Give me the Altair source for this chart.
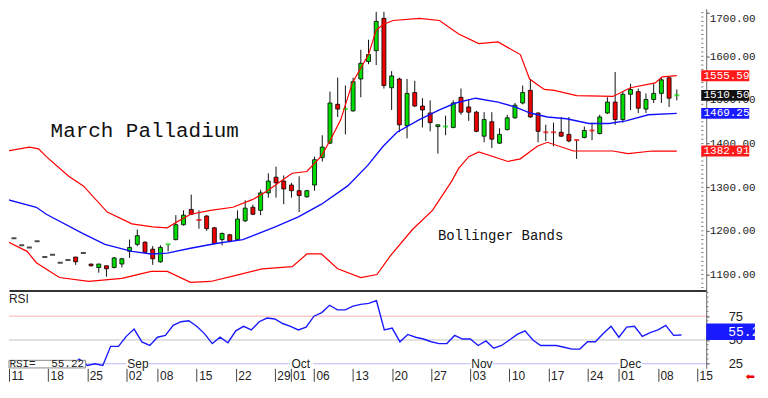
import altair as alt
import pandas as pd

# ---------------- data ----------------
days = list(range(87))
opens = [1183, 1167, 1162, 1176, 1140, 1145, 1127, 1133, 1140, 1149,
         1124, 1116, 1120, 1116, 1124, 1153, 1169, 1174, 1158, 1129,
         1169, 1180, 1214, 1249, 1225, 1234, 1207, 1180, 1191, 1180,
         1223, 1254, 1247, 1287, 1323, 1314, 1305, 1292, 1278, 1305,
         1368, 1401, 1490, 1479, 1475, 1548, 1588, 1613, 1687, 1528,
         1548, 1441, 1517, 1486, 1470, 1439, 1439, 1437, 1506, 1484,
         1472, 1417, 1450, 1401, 1432, 1459, 1493, 1522, 1470, 1426,
         1426, 1426, 1421, 1408, 1414, 1430, 1423, 1470, 1495, 1455,
         1513, 1519, 1479, 1501, 1515, 1551, 1510.5]
highs = [1183, 1167, 1162, 1176, 1140, 1145, 1127, 1133, 1140, 1149,
         1124, 1124, 1120, 1140, 1138, 1180, 1203, 1176, 1165, 1167,
         1169, 1236, 1247, 1283, 1247, 1236, 1209, 1196, 1193, 1247,
         1270, 1260, 1294, 1332, 1347, 1327, 1310, 1325, 1294, 1370,
         1419, 1519, 1551, 1533, 1551, 1615, 1638, 1702, 1702, 1566,
         1551, 1548, 1544, 1504, 1499, 1443, 1464, 1499, 1526, 1501,
         1475, 1472, 1472, 1435, 1466, 1493, 1533, 1548, 1472, 1443,
         1448, 1461, 1461, 1408, 1439, 1448, 1466, 1506, 1564, 1519,
         1537, 1526, 1515, 1537, 1551, 1551, 1524]
lows = [1183, 1167, 1162, 1176, 1140, 1145, 1127, 1133, 1122, 1149,
        1118, 1104, 1095, 1114, 1116, 1138, 1165, 1149, 1122, 1127,
        1153, 1178, 1212, 1236, 1205, 1200, 1169, 1167, 1174, 1178,
        1220, 1236, 1236, 1276, 1276, 1261, 1276, 1243, 1276, 1292,
        1359, 1399, 1461, 1421, 1473, 1506, 1582, 1580, 1526, 1477,
        1426, 1412, 1484, 1437, 1428, 1377, 1419, 1435, 1466, 1452,
        1426, 1403, 1390, 1399, 1430, 1457, 1490, 1459, 1403, 1406,
        1394, 1415, 1403, 1365, 1412, 1408, 1421, 1468, 1443, 1448,
        1477, 1470, 1470, 1493, 1493, 1484, 1499]
closes = [1183, 1167, 1162, 1176, 1140, 1145, 1127, 1133, 1129, 1149,
          1120, 1124, 1113, 1138, 1136, 1162, 1189, 1151, 1136, 1162,
          1169, 1214, 1236, 1238, 1225, 1205, 1171, 1194, 1176, 1227,
          1252, 1238, 1287, 1314, 1310, 1296, 1292, 1281, 1292, 1363,
          1392, 1493, 1479, 1479, 1542, 1584, 1604, 1680, 1533, 1555,
          1443, 1515, 1486, 1477, 1448, 1443, 1439, 1493, 1472, 1472,
          1428, 1455, 1410, 1421, 1459, 1488, 1517, 1461, 1428, 1426,
          1426, 1417, 1406, 1408, 1430, 1430, 1461, 1495, 1455, 1513,
          1524, 1481, 1501, 1515, 1546, 1504, 1510.5]
kinds = list("kkkkkkkkrk" "rgrggggrrg" "gggrrrrgrg" "grggrrrrgg" "ggrgggggrg"
             "rgrrrgggrr" "rgrggggrrr" "rrrrgrggrg" "grgggrg")

upper_days = [-0.9, 2.0, 3.2, 4.2, 7.1, 9.0, 12.1, 15.3, 18.0, 19.9,
              21.1, 22.9, 25.5, 28.4, 31.0, 32.9, 34.8, 36.1, 38.0, 39.9,
              41.1, 42.4, 43.9, 46.0, 47.0, 47.9, 49.2, 52.6, 55.2, 57.7,
              60.3, 62.8, 65.7, 66.9, 68.8, 70.1, 73.0, 77.7, 80.0, 83.2,
              84.1, 86.0]
upper_vals = [1383, 1392, 1388, 1370, 1325, 1303, 1243, 1216, 1209, 1207,
              1220, 1238, 1247, 1254, 1272, 1292, 1316, 1332, 1336, 1372,
              1410, 1455, 1539, 1604, 1660, 1673, 1682, 1687, 1682, 1651,
              1629, 1633, 1604, 1548, 1524, 1522, 1510, 1508, 1528, 1539,
              1553, 1555.6]
mid_days = [-0.9, 2.9, 4.2, 8.9, 11.8, 15.3, 17.8, 19.9, 22.9, 26.2,
            29.7, 33.9, 36.9, 39.9, 43.3, 45.9, 47.9, 49.7, 52.6, 55.2,
            57.3, 59.9, 62.8, 65.0, 67.0, 69.2, 71.7, 74.6, 77.2, 79.4,
            82.3, 86.0]
mid_vals = [1272, 1254, 1238, 1194, 1169, 1153, 1147, 1149, 1160, 1171,
            1180, 1209, 1232, 1261, 1303, 1350, 1394, 1426, 1455, 1477,
            1493, 1504, 1495, 1484, 1470, 1461, 1457, 1446, 1446, 1452,
            1466, 1469.3]
lower_days = [-0.9, 1.7, 2.9, 5.9, 9.7, 14.0, 17.8, 19.9, 22.9, 25.5,
              28.8, 32.2, 36.1, 38.0, 39.9, 42.0, 45.0, 47.1, 48.8, 51.7,
              54.3, 56.8, 57.7, 59.0, 60.3, 64.1, 65.7, 67.9, 69.2, 72.6,
              77.7, 79.7, 82.8, 86.0]
lower_vals = [1176, 1153, 1127, 1093, 1084, 1091, 1107, 1107, 1082, 1084,
              1098, 1113, 1118, 1147, 1147, 1113, 1093, 1100, 1142, 1203,
              1247, 1314, 1343, 1370, 1381, 1359, 1365, 1394, 1403, 1383,
              1383, 1377, 1383, 1382.9]

rsi = [26.0, 24.0, 23.1, 27.9, 23.5, 25.0, 23.0, 24.5, 23.5, 29.8,
       23.1, 25.0, 23.1, 43.3, 43.3, 53.8, 61.5, 48.0, 44.2, 52.9,
       54.8, 65.4, 69.2, 70.2, 64.4, 56.7, 46.2, 52.9, 47.1, 59.6,
       64.4, 60.6, 69.2, 73.1, 72.1, 67.3, 64.4, 60.6, 63.5, 75.0,
       78.8, 86.5, 81.7, 81.7, 85.6, 87.5, 88.5, 91.3, 60.6, 62.5,
       48.1, 55.8, 52.9, 51.0, 48.1, 46.2, 46.2, 54.8, 51.0, 51.0,
       44.2, 49.0, 41.3, 44.2, 50.0, 55.8, 59.6, 50.0, 44.2, 44.2,
       44.2, 42.3, 40.4, 40.4, 48.1, 48.1, 56.7, 64.4, 52.9, 63.5,
       64.4, 53.8, 57.7, 60.6, 65.4, 54.8, 55.2]

tick_days = [0, 5, 10, 15, 19, 24, 29, 34, 36, 39, 44, 49, 54, 59, 64, 69, 74, 78, 83, 88]
tick_labels = ["11", "18", "25", "02", "08", "15", "22", "29", "01", "06",
               "13", "20", "27", "03", "10", "17", "24", "01", "08", "15"]
month_names = ["Sep", "Oct", "Nov", "Dec"]
month_days = [15, 36, 59, 78]
price_ticks = [1100, 1200, 1300, 1400, 1500, 1600, 1700]
rsi_ticks = [25, 50, 75]

last_names = ["upper", "close", "middle", "lower"]
last_vals = [1555.59, 1510.50, 1469.25, 1382.91]
last_texts = ["1555.59", "1510.50", "1469.25", "1382.91"]
rsi_last = 55.22

# ---------------- layout ----------------
W = 700
H_MAIN = 283
H_RSI = 78
X_END = 89.17
BOX_END = 95.4
xs = alt.Scale(domain=[0, X_END], nice=False, zero=False)
ys = alt.Scale(domain=[1063, 1709], nice=False, zero=False)
rs = alt.Scale(domain=[20.2, 101.9], nice=False, zero=False)

MONO = "Liberation Mono"
SANS = "Liberation Sans"

main_xaxis = alt.Axis(orient="bottom", labels=False, ticks=False, domain=True,
                      domainColor="#333333", domainWidth=2, grid=False, title=None)
yaxis = alt.Axis(orient="right", values=price_ticks, format=".2f", title=None, grid=False,
                 tickSize=3, tickColor="#555555", domainColor="#666666", labelPadding=0,
                 labelFont=MONO, labelFontSize=11, labelColor="#222222", labelFlush=5, zindex=0)

label_expr = "''"
for d, l in reversed(list(zip(tick_days, tick_labels))):
    label_expr = f"datum.value == {d} ? '{l}' : {label_expr}"

rsi_xaxis = alt.Axis(orient="bottom", values=tick_days, labelExpr=label_expr, domain=False,
                     grid=False, ticks=True, tickSize=13, tickColor="#444444", tickWidth=1,
                     labelAlign="left", labelBaseline="top", labelPadding=-11, labelOffset=2,
                     labelFont=SANS, labelFontSize=12, labelColor="#222222",
                     labelOverlap=False, labelFlush=False, title=None, zindex=0)
rsi_yaxis = alt.Axis(orient="right", values=rsi_ticks, title=None, grid=False, tickSize=3,
                     tickColor="#555555", domainColor="#666666", labelPadding=19,
                     labelFont=SANS, labelFontSize=13, labelColor="#222222", zindex=0)


def MX(field):
    return alt.X(field, type="quantitative", scale=xs, axis=main_xaxis)


def MXD(v):
    return alt.XDatum(v, type="quantitative", scale=xs, axis=main_xaxis)


def MY(field):
    return alt.Y(field, type="quantitative", scale=ys, axis=yaxis)


def MYD(v):
    return alt.YDatum(v, type="quantitative", scale=ys, axis=yaxis)


def RX(field):
    return alt.X(field, type="quantitative", scale=xs, axis=rsi_xaxis)


def RXD(v):
    return alt.XDatum(v, type="quantitative", scale=xs, axis=rsi_xaxis)


def RY(field):
    return alt.Y(field, type="quantitative", scale=rs, axis=rsi_yaxis)


def RYD(v):
    return alt.YDatum(v, type="quantitative", scale=rs, axis=rsi_yaxis)


candles = pd.DataFrame({"day": days, "open": opens, "high": highs, "low": lows,
                        "close": closes, "kind": kinds})
kind_color = ("datum.kind == 'g' ? '#00dd00' : datum.kind == 'r' ? '#ee0000' : '#000000'")

wicks = alt.Chart(candles).transform_filter("datum.high > datum.low").mark_rule(
    color="#111111", strokeWidth=1, clip=True
).encode(x=MX("day"), y=MY("low"), y2="high:Q")

bodies = alt.Chart(candles).transform_filter("datum.open != datum.close").transform_calculate(
    col=kind_color
).mark_bar(size=4, stroke="#000000", strokeWidth=0.8, clip=True).encode(
    x=MX("day"), y=MY("open"), y2="close:Q", fill=alt.Fill("col:N", scale=None)
)

dashes = alt.Chart(candles).transform_filter("datum.open == datum.close").transform_calculate(
    col=kind_color
).mark_tick(orient="horizontal", size=5, thickness=2, clip=True).encode(
    x=MX("day"), y=MY("close"), color=alt.Color("col:N", scale=None)
)

upper = alt.Chart(pd.DataFrame({"day": upper_days, "v": upper_vals})).mark_line(
    color="#ff0000", strokeWidth=1.2, clip=True).encode(x=MX("day"), y=MY("v"))
lower = alt.Chart(pd.DataFrame({"day": lower_days, "v": lower_vals})).mark_line(
    color="#ff0000", strokeWidth=1.2, clip=True).encode(x=MX("day"), y=MY("v"))
middle = alt.Chart(pd.DataFrame({"day": mid_days, "v": mid_vals})).mark_line(
    color="#1010ff", strokeWidth=1.4, clip=True).encode(x=MX("day"), y=MY("v"))

title_txt = alt.Chart(pd.DataFrame({"t": ["March Palladium"]})).mark_text(
    align="left", baseline="middle", font=MONO, fontSize=21, color="#111111"
).encode(x=MXD(4.75), y=MYD(1428), text="t:N")
bb_txt = alt.Chart(pd.DataFrame({"t": ["Bollinger Bands"]})).mark_text(
    align="left", baseline="middle", font=MONO, fontSize=14, color="#111111"
).encode(x=MXD(55.0), y=MYD(1189), text="t:N")

minor_df = pd.DataFrame({"v": list(range(1070, 1701, 10))})
minor = alt.Chart(minor_df).mark_rule(color="#777777", strokeWidth=1).encode(
    x=MXD(X_END), x2=alt.datum(X_END + 0.28), y=MY("v"))

box_df = pd.DataFrame({"name": last_names, "v": last_vals, "t": last_texts})
box_col = "datum.name == 'close' ? '#111111' : datum.name == 'middle' ? '#1a1aff' : '#ff1a1a'"
boxes = alt.Chart(box_df).transform_calculate(
    lo="datum.v - 12.5", hi="datum.v + 12.5", col=box_col
).mark_rect().encode(
    x=MXD(X_END), x2=alt.datum(BOX_END), y=MY("lo"), y2="hi:Q", fill=alt.Fill("col:N", scale=None))
box_txt = alt.Chart(box_df).mark_text(
    align="left", baseline="middle", font=MONO, fontSize=11, color="white"
).encode(x=MXD(X_END + 0.3), y=MY("v"), text="t:N")

main = alt.layer(
    minor, wicks, bodies, dashes, upper, lower, middle, title_txt, bb_txt, boxes, box_txt
).properties(width=W, height=H_MAIN)

# ---------------- RSI panel ----------------
rsi_df = pd.DataFrame({"day": days, "rsi": rsi})

lvl75 = alt.Chart(pd.DataFrame({"a": [0]})).mark_rule(color="#ffb0b0", strokeWidth=1).encode(y=RYD(75))
lvl50 = alt.Chart(pd.DataFrame({"a": [0]})).mark_rule(color="#c4c4c4", strokeWidth=1).encode(y=RYD(50))
lvl25 = alt.Chart(pd.DataFrame({"a": [0]})).mark_rule(color="#b8b8ff", strokeWidth=1).encode(y=RYD(25))

rsi_line = alt.Chart(rsi_df).mark_line(color="#1a1aff", strokeWidth=1.4, clip=True).encode(
    x=RX("day"), y=RY("rsi"))

rminor = alt.Chart(pd.DataFrame({"v": list(range(25, 101, 5))})).mark_rule(
    color="#777777", strokeWidth=1).encode(x=RXD(X_END), x2=alt.datum(X_END + 0.28), y=RY("v"))

month_df = pd.DataFrame({"m": month_names, "d": month_days})
month_bg = alt.Chart(month_df).transform_calculate(d2="datum.d + 2.9").mark_rect(color="white").encode(
    x=RX("d"), x2="d2:Q", y=RYD(20.4), y2=alt.datum(29.4))
month_txt = alt.Chart(month_df).mark_text(
    align="left", baseline="middle", dx=1, font=SANS, fontSize=12, color="#222222"
).encode(x=RX("d"), y=RYD(24.8), text="m:N")

rsi_title = alt.Chart(pd.DataFrame({"t": ["RSI"]})).mark_text(
    align="left", baseline="middle", font=SANS, fontSize=12, color="#222222"
).encode(x=RXD(0), y=RYD(93.5), text="t:N")

val_box = alt.Chart(pd.DataFrame({"a": [0]})).mark_rect(
    fill="white", stroke="#888888", strokeWidth=1).encode(
    x=RXD(0), x2=alt.datum(9.8), y=RYD(20.6), y2=alt.datum(28.6))
val_lbl = alt.Chart(pd.DataFrame({"t": ["RSI="]})).mark_text(
    align="left", baseline="middle", font=MONO, fontSize=11, color="#222222"
).encode(x=RXD(0.05), y=RYD(24.6), text="t:N")
val_num = alt.Chart(pd.DataFrame({"v": [rsi_last]})).mark_text(
    align="right", baseline="middle", font=MONO, fontSize=11, color="#222222"
).encode(x=RXD(9.6), y=RYD(24.6), text=alt.Text("v:Q", format=".2f"))

rbox = alt.Chart(pd.DataFrame({"v": [rsi_last]})).mark_rect(color="#1a1aff").encode(
    x=RXD(X_END), x2=alt.datum(BOX_END), y=RYD(50.0), y2=alt.datum(67.3))
rbox_txt = alt.Chart(pd.DataFrame({"v": [rsi_last]})).mark_text(
    align="left", baseline="middle", font=MONO, fontSize=13, color="white"
).encode(x=RXD(92.0), y=RYD(58.6), text=alt.Text("v:Q", format=".1f"))

arrow = alt.Chart(pd.DataFrame({"t": ["\u2b05"]})).mark_text(
    align="center", baseline="middle", font="DejaVu Sans", fontSize=11, color="#ee0000"
).encode(x=RXD(94.8), y=RYD(10.8), text="t:N")

rsi_chart = alt.layer(
    lvl75, lvl50, lvl25, rminor, rsi_line, month_bg, month_txt, rsi_title,
    val_box, val_lbl, val_num, rbox, rbox_txt, arrow
).properties(width=W, height=H_RSI)

chart = alt.vconcat(main, rsi_chart, spacing=0, bounds="flush", padding=0).configure_view(
    stroke=None).properties(background="white")

chart.save("out.html", embed_options={"renderer": "svg", "actions": False})
